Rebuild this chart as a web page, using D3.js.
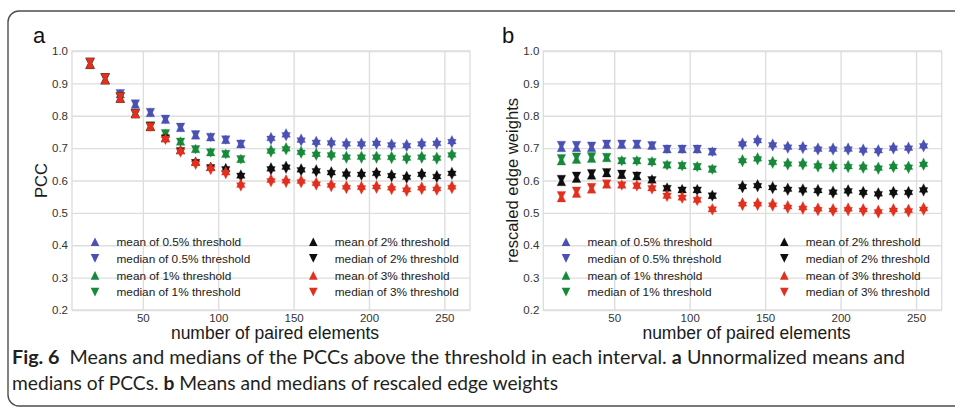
<!DOCTYPE html>
<html>
<head>
<meta charset="utf-8">
<script src="https://cdn.jsdelivr.net/npm/d3@7"></script>
<style>
  body { margin: 0; background: #ffffff; }
  svg { display: block; font-family: "Liberation Sans", Arial, Helvetica, sans-serif; }
  .cap { font-family: Lato, "Open Sans", "Liberation Sans", sans-serif; white-space: pre; }
</style>
</head>
<body>
<svg id="fig" width="955" height="407"></svg>
<script>
// ---- data -------------------------------------------------------------
const pairedElements = [15, 25, 35, 45, 55, 65, 75, 85, 95, 105, 115,
  135, 145, 155, 165, 175, 185, 195, 205, 215, 225, 235, 245, 255];

const xTicks = [50, 100, 150, 200, 250];
const yTicks = [0.2, 0.3, 0.4, 0.5, 0.6, 0.7, 0.8, 0.9, 1.0];

const seriesLabels = [
  "mean of 0.5% threshold", "median of 0.5% threshold",
  "mean of 1% threshold", "median of 1% threshold",
  "mean of 2% threshold", "median of 2% threshold",
  "mean of 3% threshold", "median of 3% threshold"
];
const thresholdColors = ["#4a50b4", "#16893a", "#0e0e0e", "#e2301f"];

// (a) unnormalized PCCs
const pccMean05   = [0.959, 0.911, 0.868, 0.836, 0.810, 0.789, 0.764, 0.741, 0.735, 0.727, 0.714, 0.736, 0.747, 0.731, 0.724, 0.722, 0.719, 0.719, 0.721, 0.716, 0.714, 0.719, 0.721, 0.726];
const pccMedian05 = [0.965, 0.917, 0.868, 0.836, 0.810, 0.789, 0.764, 0.741, 0.733, 0.725, 0.712, 0.724, 0.735, 0.719, 0.712, 0.710, 0.707, 0.707, 0.709, 0.704, 0.702, 0.707, 0.709, 0.714];
const pccMean1    = [0.959, 0.911, 0.855, 0.807, 0.768, 0.746, 0.722, 0.699, 0.689, 0.684, 0.668, 0.697, 0.704, 0.693, 0.687, 0.685, 0.678, 0.678, 0.678, 0.677, 0.675, 0.678, 0.675, 0.685];
const pccMedian1  = [0.965, 0.917, 0.859, 0.807, 0.768, 0.744, 0.718, 0.695, 0.685, 0.680, 0.664, 0.685, 0.692, 0.681, 0.675, 0.673, 0.666, 0.666, 0.666, 0.665, 0.663, 0.666, 0.663, 0.673];
const pccMean2    = [0.959, 0.911, 0.854, 0.806, 0.767, 0.732, 0.695, 0.660, 0.644, 0.640, 0.620, 0.642, 0.647, 0.639, 0.636, 0.630, 0.626, 0.625, 0.628, 0.621, 0.616, 0.625, 0.618, 0.628];
const pccMedian2  = [0.965, 0.917, 0.858, 0.806, 0.767, 0.728, 0.689, 0.652, 0.636, 0.630, 0.610, 0.630, 0.635, 0.627, 0.624, 0.618, 0.614, 0.613, 0.616, 0.609, 0.604, 0.613, 0.606, 0.616];
const pccMean3    = [0.959, 0.911, 0.854, 0.806, 0.767, 0.732, 0.695, 0.659, 0.643, 0.630, 0.592, 0.607, 0.605, 0.604, 0.597, 0.592, 0.586, 0.585, 0.587, 0.583, 0.578, 0.583, 0.581, 0.586];
const pccMedian3  = [0.965, 0.917, 0.858, 0.806, 0.765, 0.724, 0.685, 0.647, 0.631, 0.618, 0.580, 0.593, 0.591, 0.590, 0.583, 0.578, 0.572, 0.571, 0.573, 0.569, 0.564, 0.569, 0.567, 0.572];

// (b) rescaled edge weights
const ewMean05   = [0.702, 0.702, 0.702, 0.712, 0.712, 0.712, 0.709, 0.698, 0.698, 0.698, 0.691, 0.719, 0.729, 0.716, 0.709, 0.708, 0.703, 0.703, 0.703, 0.700, 0.698, 0.706, 0.706, 0.713];
const ewMedian05 = [0.708, 0.708, 0.706, 0.712, 0.712, 0.712, 0.707, 0.696, 0.696, 0.696, 0.687, 0.707, 0.717, 0.704, 0.697, 0.696, 0.691, 0.691, 0.691, 0.688, 0.686, 0.694, 0.694, 0.701];
const ewMean1    = [0.661, 0.666, 0.669, 0.671, 0.664, 0.664, 0.661, 0.651, 0.649, 0.646, 0.638, 0.667, 0.673, 0.662, 0.657, 0.657, 0.651, 0.649, 0.649, 0.647, 0.644, 0.649, 0.647, 0.656];
const ewMedian1  = [0.667, 0.672, 0.673, 0.671, 0.658, 0.658, 0.655, 0.645, 0.643, 0.640, 0.632, 0.655, 0.661, 0.650, 0.645, 0.645, 0.639, 0.637, 0.637, 0.635, 0.632, 0.637, 0.635, 0.644];
const ewMean2    = [0.597, 0.607, 0.617, 0.624, 0.619, 0.615, 0.605, 0.580, 0.575, 0.575, 0.557, 0.587, 0.590, 0.584, 0.579, 0.577, 0.575, 0.570, 0.574, 0.569, 0.565, 0.569, 0.569, 0.577];
const ewMedian2  = [0.603, 0.613, 0.621, 0.624, 0.619, 0.613, 0.599, 0.572, 0.567, 0.567, 0.549, 0.575, 0.578, 0.572, 0.567, 0.565, 0.563, 0.558, 0.562, 0.557, 0.553, 0.557, 0.557, 0.565];
const ewMean3    = [0.547, 0.561, 0.574, 0.589, 0.589, 0.588, 0.581, 0.558, 0.552, 0.545, 0.516, 0.534, 0.534, 0.532, 0.525, 0.522, 0.518, 0.516, 0.518, 0.516, 0.511, 0.516, 0.514, 0.519];
const ewMedian3  = [0.553, 0.567, 0.578, 0.589, 0.583, 0.580, 0.571, 0.548, 0.542, 0.535, 0.506, 0.520, 0.520, 0.518, 0.511, 0.508, 0.504, 0.502, 0.504, 0.502, 0.497, 0.502, 0.500, 0.505];

// ---- drawing ----------------------------------------------------------
const svg = d3.select("#fig");
const plotTop = 51, plotBottom = 310;

// rounded figure frame (runs off the right edge)
svg.append("rect")
  .attr("x", 8).attr("y", 11).attr("width", 1000).attr("height", 395)
  .attr("rx", 11).attr("ry", 11)
  .attr("fill", "none").attr("stroke", "#4d4d4d").attr("stroke-width", 1.4);

// triangle markers centred on their bounding box
const h = 4.3;
const triUp = `M0,${-h}L${h},${h}L${-h},${h}Z`;
const triDown = `M0,${h}L${h},${-h}L${-h},${-h}Z`;

function drawPanel(p) {
  const x = d3.scaleLinear().domain([3, 267]).range([p.left, p.right]);
  const y = d3.scaleLinear().domain([0.2, 1.0]).range([plotBottom, plotTop]);
  const g = svg.append("g");

  // grid lines
  g.append("g")
    .attr("transform", `translate(0,${plotBottom})`)
    .call(d3.axisBottom(x).tickValues(xTicks).tickFormat("").tickSize(-(plotBottom - plotTop)))
    .call(a => a.select(".domain").remove())
    .call(a => a.selectAll("line").attr("stroke", "#dedede").attr("stroke-width", 1.4));
  g.append("g")
    .attr("transform", `translate(${p.left},0)`)
    .call(d3.axisLeft(y).tickValues(yTicks).tickFormat("").tickSize(-(p.right - p.left)))
    .call(a => a.select(".domain").remove())
    .call(a => a.selectAll("line").attr("stroke", "#dedede").attr("stroke-width", 1.4));

  g.append("rect")
    .attr("x", p.left).attr("y", plotTop)
    .attr("width", p.right - p.left).attr("height", plotBottom - plotTop)
    .attr("fill", "none").attr("stroke", "#dedede").attr("stroke-width", 1.4);

  // tick labels
  g.append("g")
    .attr("transform", `translate(0,${plotBottom})`)
    .call(d3.axisBottom(x).tickValues(xTicks).tickFormat(d3.format("d")).tickSize(0).tickPadding(4))
    .attr("font-family", null).attr("font-size", 11.5)
    .call(a => a.select(".domain").remove())
    .call(a => a.selectAll("text").attr("fill", "#333"));
  g.append("g")
    .attr("transform", `translate(${p.left},0)`)
    .call(d3.axisLeft(y).tickValues(yTicks).tickFormat(d3.format(".1f")).tickSize(0).tickPadding(4))
    .attr("font-family", null).attr("font-size", 11.5)
    .call(a => a.select(".domain").remove())
    .call(a => a.selectAll("text").attr("fill", "#333"));

  // axis titles and panel letter
  g.append("text")
    .attr("x", (p.left + p.right) / 2 + 4).attr("y", 339)
    .attr("text-anchor", "middle").attr("font-size", 17.5).attr("fill", "#1a1a1a")
    .text("number of paired elements");
  g.append("text")
    .attr("transform", `translate(${p.yLabelX},${(plotTop + plotBottom) / 2}) rotate(-90)`)
    .attr("text-anchor", "middle").attr("font-size", 16.6).attr("fill", "#1a1a1a")
    .text(p.yLabel);
  g.append("text")
    .attr("x", p.letterX).attr("y", 43)
    .attr("font-size", 22).attr("fill", "#111")
    .text(p.letter);

  // markers: mean = up triangle, median = down triangle
  p.series.forEach((vals, i) => {
    const c = thresholdColors[Math.floor(i / 2)];
    g.append("g").selectAll("path")
      .data(pairedElements.map((n, j) => [n, vals[j]]))
      .join("path")
      .attr("d", i % 2 === 0 ? triUp : triDown)
      .attr("transform", d => `translate(${x(d[0])},${y(d[1])})`)
      .attr("fill", c).attr("stroke", c).attr("stroke-width", 0.5).attr("stroke-opacity", 0.6);
  });

  // legend, two columns
  const rowY = [241.7, 258.4, 275.4, 292.1];
  seriesLabels.forEach((label, i) => {
    const col = Math.floor(i / 4), row = i % 4;
    const mx = p.left + (col === 0 ? p.legMarker[0] : p.legMarker[1]);
    g.append("path")
      .attr("d", i % 2 === 0 ? triUp : triDown)
      .attr("transform", `translate(${mx},${rowY[row]})`)
      .attr("fill", thresholdColors[Math.floor(i / 2)]);
    g.append("text")
      .attr("x", mx + 21.5).attr("y", rowY[row]).attr("dy", "0.36em")
      .attr("font-size", 11.8).attr("fill", "#1a1a1a")
      .text(label);
  });
}

drawPanel({
  left: 72, right: 470, letter: "a", letterX: 33, yLabel: "PCC", yLabelX: 46.5,
  legMarker: [23, 241.3],
  series: [pccMean05, pccMedian05, pccMean1, pccMedian1, pccMean2, pccMedian2, pccMean3, pccMedian3]
});
drawPanel({
  left: 543.3, right: 941.7, letter: "b", letterX: 502, yLabel: "rescaled edge weights", yLabelX: 518,
  legMarker: [22.7, 241],
  series: [ewMean05, ewMedian05, ewMean1, ewMedian1, ewMean2, ewMedian2, ewMean3, ewMedian3]
});

// caption
const cap1 = svg.append("text").attr("class", "cap")
  .attr("x", 12).attr("y", 364).attr("font-size", 19).attr("fill", "#231f20")
  .attr("textLength", 893).attr("lengthAdjust", "spacingAndGlyphs");
cap1.append("tspan").attr("font-weight", "bold").text("Fig. 6");
cap1.append("tspan").text("  Means and medians of the PCCs above the threshold in each interval. ");
cap1.append("tspan").attr("font-weight", "bold").text("a");
cap1.append("tspan").text(" Unnormalized means and");

const cap2 = svg.append("text").attr("class", "cap")
  .attr("x", 12).attr("y", 390).attr("font-size", 19).attr("fill", "#231f20")
  .attr("textLength", 546).attr("lengthAdjust", "spacingAndGlyphs");
cap2.append("tspan").text("medians of PCCs. ");
cap2.append("tspan").attr("font-weight", "bold").text("b");
cap2.append("tspan").text(" Means and medians of rescaled edge weights");
</script>
</body>
</html>
